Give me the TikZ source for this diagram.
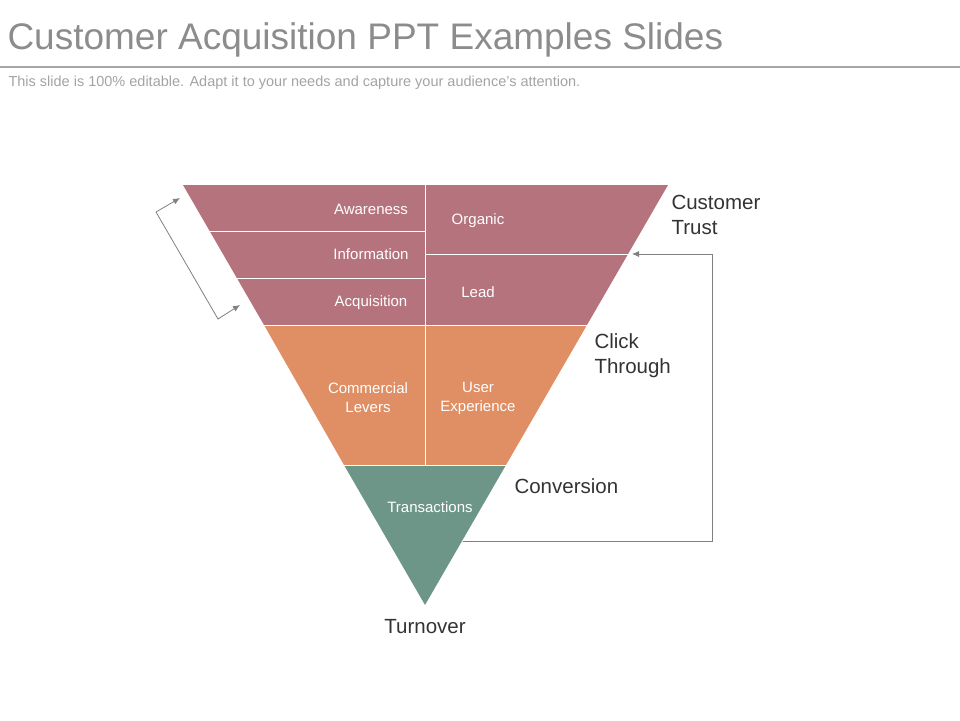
\documentclass[tikz,border=0pt]{standalone}
\usepackage{fontspec}
\setmainfont{Liberation Sans}
\usepackage{tikz}
\usetikzlibrary{calc}
\usetikzlibrary{arrows.meta}
\definecolor{mauve}{HTML}{B5737D}
\definecolor{peach}{HTML}{E08E63}
\definecolor{sage}{HTML}{6E9688}
\definecolor{txtgray}{HTML}{8C8C8C}
\tikzset{inlabel/.style={text=white, font=\fontsize{15}{19}\selectfont, align=center},
  sidelabel/.style={text=black!80, font=\fontsize{20.5}{25}\selectfont, align=left, anchor=west},
  guide/.style={draw=gray, line width=0.8pt, -{Latex[length=7pt,width=6pt]}}}

\begin{document}
\begin{tikzpicture}[x=1pt, y=-1pt]
    \useasboundingbox (0,0) rectangle (960,720);
    % title
    \node[anchor=west, text=txtgray, font=\fontsize{37}{42}\selectfont] (title) at (4,40) {Customer Acquisition PPT Examples Slides};
    \draw[gray!70, line width=2pt] (0,67) -- (960,67);
    \node[anchor=west, text=txtgray!80, font=\fontsize{14.5}{17}\selectfont] (sub) at (5,83) {This slide is 100\% editable. Adapt it to your needs and capture your audience's attention.};

    % funnel bands
    \fill[mauve] (183,185) -- (668,185) -- (587,325) -- (264,325) -- cycle;
    \fill[peach] (264,325) -- (587,325) -- (506,465) -- (344,465) -- cycle;
    \fill[sage] (344,465) -- (506,465) -- (425,605) -- cycle;
    \draw[white, line width=1pt] (425,185) -- (425,465);
    \draw[white, line width=1pt] (209,231) -- (425,231);
    \draw[white, line width=1pt] (237,278) -- (425,278);
    \draw[white, line width=1pt] (425,254) -- (628,254);
    \draw[white, line width=1pt] (264,325) -- (587,325);
    \draw[white, line width=1pt] (344,465) -- (506,465);

    % labels inside
    \node[inlabel] (aw) at (371,209) {Awareness};
    \node[inlabel] (inf) at (371,254) {Information};
    \node[inlabel] (acq) at (371,303) {Acquisition};
    \node[inlabel] (org) at (478,221) {Organic};
    \node[inlabel] (lead) at (478,292) {Lead};
    \node[inlabel] (com) at (368,398) {Commercial\\Levers};
    \node[inlabel] (ux) at (478,398) {User\\Experience};
    \node[inlabel] (tr) at (430,507) {Transactions};

    % labels outside
    \node[sidelabel] (trust) at (668,215) {Customer\\Trust};
    \node[sidelabel] (click) at (591,356) {Click\\Through};
    \node[sidelabel] (conv) at (511,486) {Conversion};
    \node[text=black!80, font=\fontsize{20.5}{25}\selectfont] (turn) at (425,627) {Turnover};

    % left bracket
    \coordinate (bt) at (156,212);
    \coordinate (bb) at (218,319);
    \draw[guide] (bt) -- (180,198);
    \draw[guide] (bt) -- (bb) -- (240,305);

    % feedback loop
    \coordinate (fa) at (463,541);
    \coordinate (fb) at (712,541);
    \coordinate (fc) at (712,254);
    \draw[guide] (fa) -- (fb) -- (fc) -- (632,254);
\end{tikzpicture}
\end{document}
